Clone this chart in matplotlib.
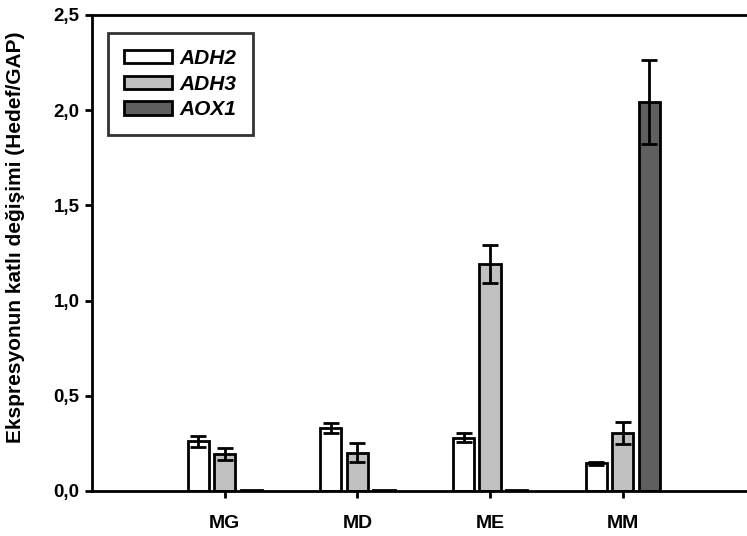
import matplotlib
matplotlib.use("Agg")
import matplotlib.pyplot as plt
import numpy as np
from matplotlib.patches import Patch

plt.rcParams['font.family'] = ['Liberation Sans', 'DejaVu Sans']

categories = ['MG', 'MD', 'ME', 'MM']
series = ['ADH2', 'ADH3', 'AOX1']
adh2 = [0.26, 0.33, 0.28, 0.145]
adh2_err = [0.03, 0.026, 0.025, 0.006]
adh3 = [0.195, 0.20, 1.19, 0.305]
adh3_err = [0.03, 0.05, 0.10, 0.057]
aox1 = [0.004, 0.004, 0.004, 2.045]
aox1_err = [0.0, 0.0, 0.0, 0.22]
yticks = [0.0, 0.5, 1.0, 1.5, 2.0, 2.5]
ytick_labels = ['0,0', '0,5', '1,0', '1,5', '2,0', '2,5']

colors = ['#ffffff', '#c0c0c0', '#5f5f5f']
values = [adh2, adh3, aox1]
errors = [adh2_err, adh3_err, aox1_err]

LW = 2.0

fig = plt.figure(figsize=(7.47, 5.36), dpi=100)
ax = fig.add_axes([92 / 747, 45 / 536, 663.5 / 747, 476 / 536])

x = np.arange(1, len(categories) + 1)
offsets = [-0.2, 0.0, 0.2]
width = 0.16
for vals, errs, col, off in zip(values, errors, colors, offsets):
    ax.bar(x + off, vals, width, color=col, edgecolor='black', linewidth=LW, zorder=2)
    e = np.array(errs)
    mask = e > 0
    ax.errorbar((x + off)[mask], np.array(vals)[mask], yerr=e[mask], fmt='none',
                ecolor='black', elinewidth=LW, capsize=5.5, capthick=LW, zorder=3)

ax.set_xlim(0, 5)
ax.set_ylim(0, 2.5)
ax.set_xticks(x)
ax.set_xticklabels(categories, fontsize=14, fontweight='bold')
ax.set_yticks(yticks)
ax.set_yticklabels(ytick_labels, fontsize=13.5, fontweight='bold')
ax.tick_params(axis='y', direction='out', length=5, width=LW, pad=4)
ax.tick_params(axis='x', direction='out', length=5, width=LW, pad=12)
for s in ['left', 'bottom', 'top']:
    ax.spines[s].set_linewidth(LW)
ax.spines['right'].set_visible(False)

ax.set_ylabel('Ekspresyonun katlı değişimi (Hedef/GAP)', fontsize=15,
              fontweight='bold')
ax.yaxis.set_label_coords(-(92 - 25) / 663.5, 0.534)

handles = [Patch(facecolor=c, edgecolor='black', linewidth=LW) for c in colors]
leg = ax.legend(handles, series, loc='upper left', bbox_to_anchor=(16 / 663.5, 1 - 18 / 476),
                prop={'size': 15, 'weight': 'bold', 'style': 'italic'},
                frameon=True, fancybox=False, handlelength=2.3, handleheight=0.6,
                handletextpad=0.4, labelspacing=0.33, borderpad=0.75, borderaxespad=0)
leg.get_frame().set_edgecolor('black')
leg.get_frame().set_linewidth(LW)

fig.savefig('out.png', dpi=100)
